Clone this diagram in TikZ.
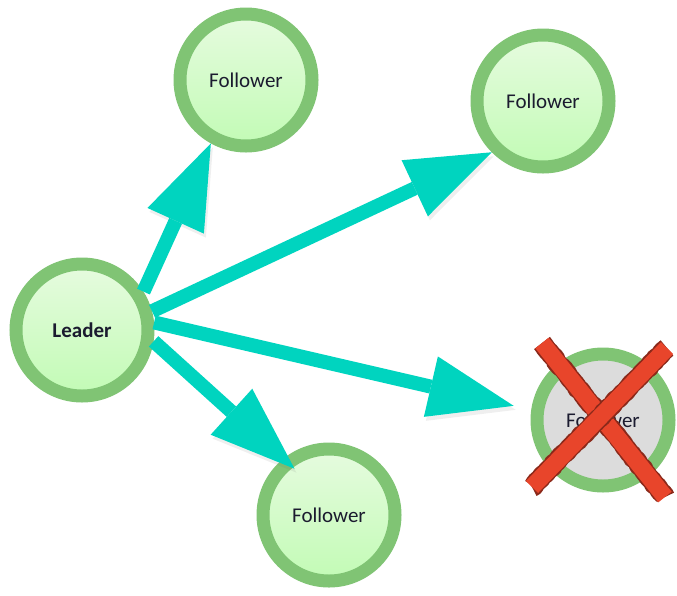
\documentclass[tikz,border=0pt]{standalone}
\usepackage{fontspec}
\setmainfont{Carlito}
\usetikzlibrary{arrows.meta, shadows.blur, decorations.pathmorphing}

\definecolor{ringgreen}{HTML}{80C474}
\definecolor{lighttop}{HTML}{E6FBDF}
\definecolor{lightbottom}{HTML}{C2FBB5}
\definecolor{deadgray}{HTML}{DCDCDC}
\definecolor{msgteal}{HTML}{00D4BF}
\definecolor{crossred}{HTML}{E8452B}
\definecolor{textnavy}{HTML}{1B1B2F}

\begin{document}
\begin{tikzpicture}[
    x=1pt, y=-1pt,
    server/.style={
        circle,
        draw=ringgreen,
        line width=13pt,
        minimum size=132pt,
        inner sep=0pt,
        top color=lighttop,
        bottom color=lightbottom,
        text=textnavy,
        font=\fontsize{21}{25}\selectfont,
        blur shadow={shadow xshift=3pt, shadow yshift=-4pt, shadow blur steps=6, shadow opacity=30},
    },
    crashed/.style={
        server,
        top color=deadgray,
        bottom color=deadgray,
    },
    message/.style={
        msgteal,
        line width=14pt,
        -{Triangle[length=85pt, width=62pt, line width=0pt]},
        preaction={draw=black!60, opacity=0.10,
            transform canvas={shift={(2pt,-4pt)}}},
    },
    cross/.style={
        line width=17pt,
        crossred,
        preaction={draw=crossred!60!black, line width=20pt, line join=round,
            decorate, decoration={random steps, segment length=3pt, amplitude=0.8pt}},
    }
]
    \useasboundingbox (0,0) rectangle (677,595);

    % Servers
    \node[server, font=\fontsize{21}{25}\selectfont\bfseries] (leader) at (82,330) {Leader};
    \node[server] (follower1) at (246,80) {Follower};
    \node[server] (follower2) at (543,101) {Follower};
    \node[server] (follower3) at (329,515) {Follower};
    \node[crashed] (follower4) at (603,420) {Follower};

    % Messages from the leader
    \draw[message] (leader.32) -- (follower1.241);
    \draw[message] (leader.15) -- (follower2.225);
    \draw[message, shorten >=18pt] (leader.6) -- (follower4.172);
    \draw[message, shorten >=-15pt] (leader.-9) -- (follower3.129);

    % Crossed out follower
    \coordinate (xa) at (542,343);
    \coordinate (xb) at (665,497);
    \coordinate (xc) at (667,348);
    \coordinate (xd) at (532,487);
    \draw[cross] (xa) -- (xb);
    \draw[cross] (xc) -- (xd);
\end{tikzpicture}
\end{document}
